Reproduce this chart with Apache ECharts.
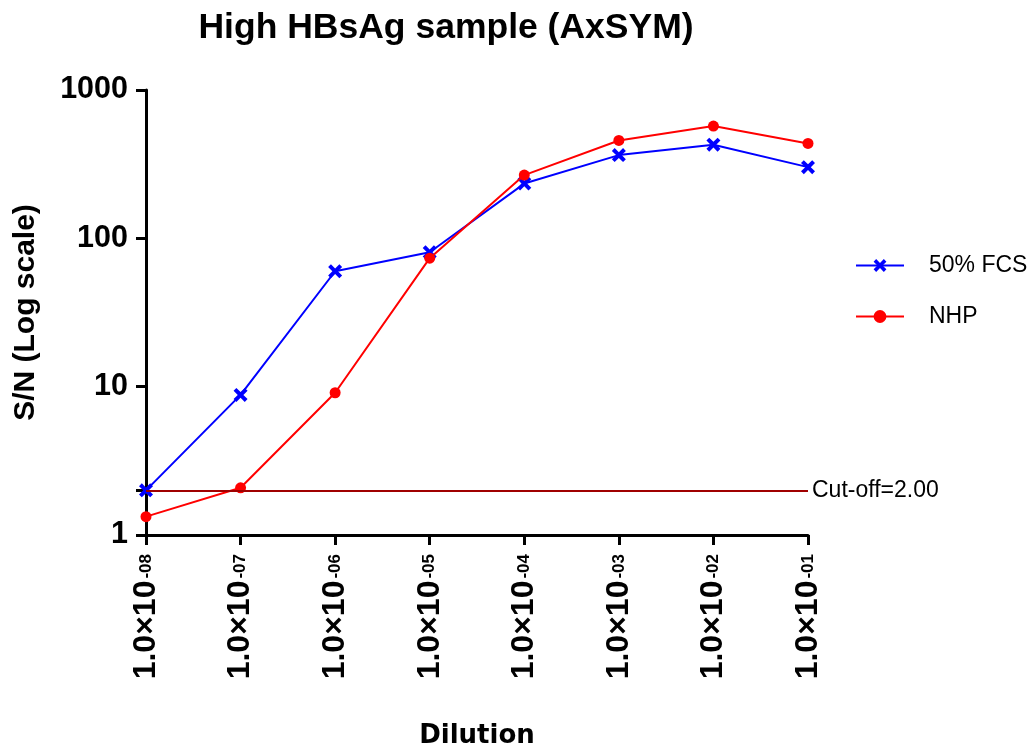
<!DOCTYPE html>
<html>
<head>
<meta charset="utf-8">
<title>High HBsAg sample (AxSYM)</title>
<script src="https://cdn.jsdelivr.net/npm/echarts@6/dist/echarts.min.js"></script>
<style>
  html, body { margin: 0; padding: 0; background: #fff; }
  #main { width: 1032px; height: 749px; }
</style>
</head>
<body>
<div id="main"></div>
<script>
// dilution exponents (1.0x10^exp)
var exponents = ['-08', '-07', '-06', '-05', '-04', '-03', '-02', '-01'];
// S/N values
var fcs = [2.0, 8.8, 60, 80.5, 234, 364, 428, 302];
var nhp = [1.33, 2.08, 9.1, 73.5, 267, 457, 571, 436];
var cutOff = 2.0;
var yLabelValues = [1, 10, 100, 1000];
var yTickValues = [1, 2, 10, 100, 1000];

var FONT = 'Liberation Sans, Arial, sans-serif';
// X shaped marker
var crossPath = 'path://M2,0 L5,3 L8,0 L10,2 L7,5 L10,8 L8,10 L5,7 L2,10 L0,8 L3,5 L0,2 Z';

var myChart = echarts.init(document.getElementById('main'));

var option = {
  backgroundColor: '#fff',
  animation: false,
  title: {
    text: 'High HBsAg sample (AxSYM)',
    left: 441,
    top: 5,
    textAlign: 'center',
    textStyle: { fontFamily: FONT, fontSize: 35.5, fontWeight: 'bold', color: '#000' }
  },
  legend: {
    orient: 'vertical',
    left: 850,
    top: 249,
    itemWidth: 48,
    itemHeight: 16,
    itemGap: 28,
    textStyle: { fontFamily: FONT, fontSize: 23, color: '#000', padding: [0, 0, 0, 20] },
    data: ['50% FCS', 'NHP']
  },
  grid: { left: 146, right: 224, top: 90, bottom: 214, containLabel: false, outerBoundsMode: 'none' },
  xAxis: {
    type: 'category',
    data: exponents,
    boundaryGap: false,
    name: 'Dilution',
    nameLocation: 'middle',
    nameGap: 188,
    nameTextStyle: { fontFamily: 'DejaVu Sans', fontSize: 26, fontWeight: 'bold', color: '#000' },
    axisLine: { lineStyle: { color: '#000', width: 3 } },
    axisTick: { alignWithLabel: true, length: 10, lineStyle: { color: '#000', width: 3 } },
    axisLabel: {
      rotate: 90,
      margin: 19,
      interval: 0,
      formatter: function (v) { return '{m|1.0×10}{s|' + v + '}'; },
      rich: {
        m: { fontFamily: FONT, fontSize: 32, fontWeight: 'bold', color: '#000', lineHeight: 30 },
        s: { fontFamily: FONT, fontSize: 17, fontWeight: 'bold', color: '#000', verticalAlign: 'middle', lineHeight: 22, padding: [0, 0, 0, 2] }
      }
    }
  },
  yAxis: {
    type: 'log',
    logBase: 10,
    min: 1,
    max: 1000,
    name: 'S/N (Log scale)',
    nameLocation: 'middle',
    nameGap: 105,
    nameTextStyle: { fontFamily: FONT, fontSize: 30, fontWeight: 'bold', color: '#000' },
    axisLine: { show: true, lineStyle: { color: '#000', width: 3 } },
    axisTick: { show: true, length: 10, customValues: yTickValues, lineStyle: { color: '#000', width: 3 } },
    axisLabel: {
      margin: 18,
      customValues: yLabelValues,
      formatter: function (v) { return String(v); },
      fontFamily: FONT, fontSize: 30.5, fontWeight: 'bold', color: '#000'
    },
    splitLine: { show: false }
  },
  series: [
    {
      name: '50% FCS',
      type: 'line',
      data: fcs,
      symbol: crossPath,
      symbolSize: 14,
      lineStyle: { color: '#0000ff', width: 2 },
      itemStyle: { color: '#0000ff' },
      z: 3
    },
    {
      name: 'NHP',
      type: 'line',
      data: nhp,
      symbol: 'circle',
      symbolSize: 11,
      lineStyle: { color: '#ff0000', width: 2 },
      itemStyle: { color: '#ff0000' },
      z: 4,
      markLine: {
        silent: true,
        symbol: 'none',
        lineStyle: { color: '#a00000', width: 2, type: 'solid' },
        label: {
          show: true,
          position: 'end',
          distance: 4,
          formatter: 'Cut-off=2.00',
          fontFamily: FONT, fontSize: 23, color: '#000'
        },
        data: [{ yAxis: cutOff }]
      }
    }
  ]
};

myChart.setOption(option);
</script>
</body>
</html>
